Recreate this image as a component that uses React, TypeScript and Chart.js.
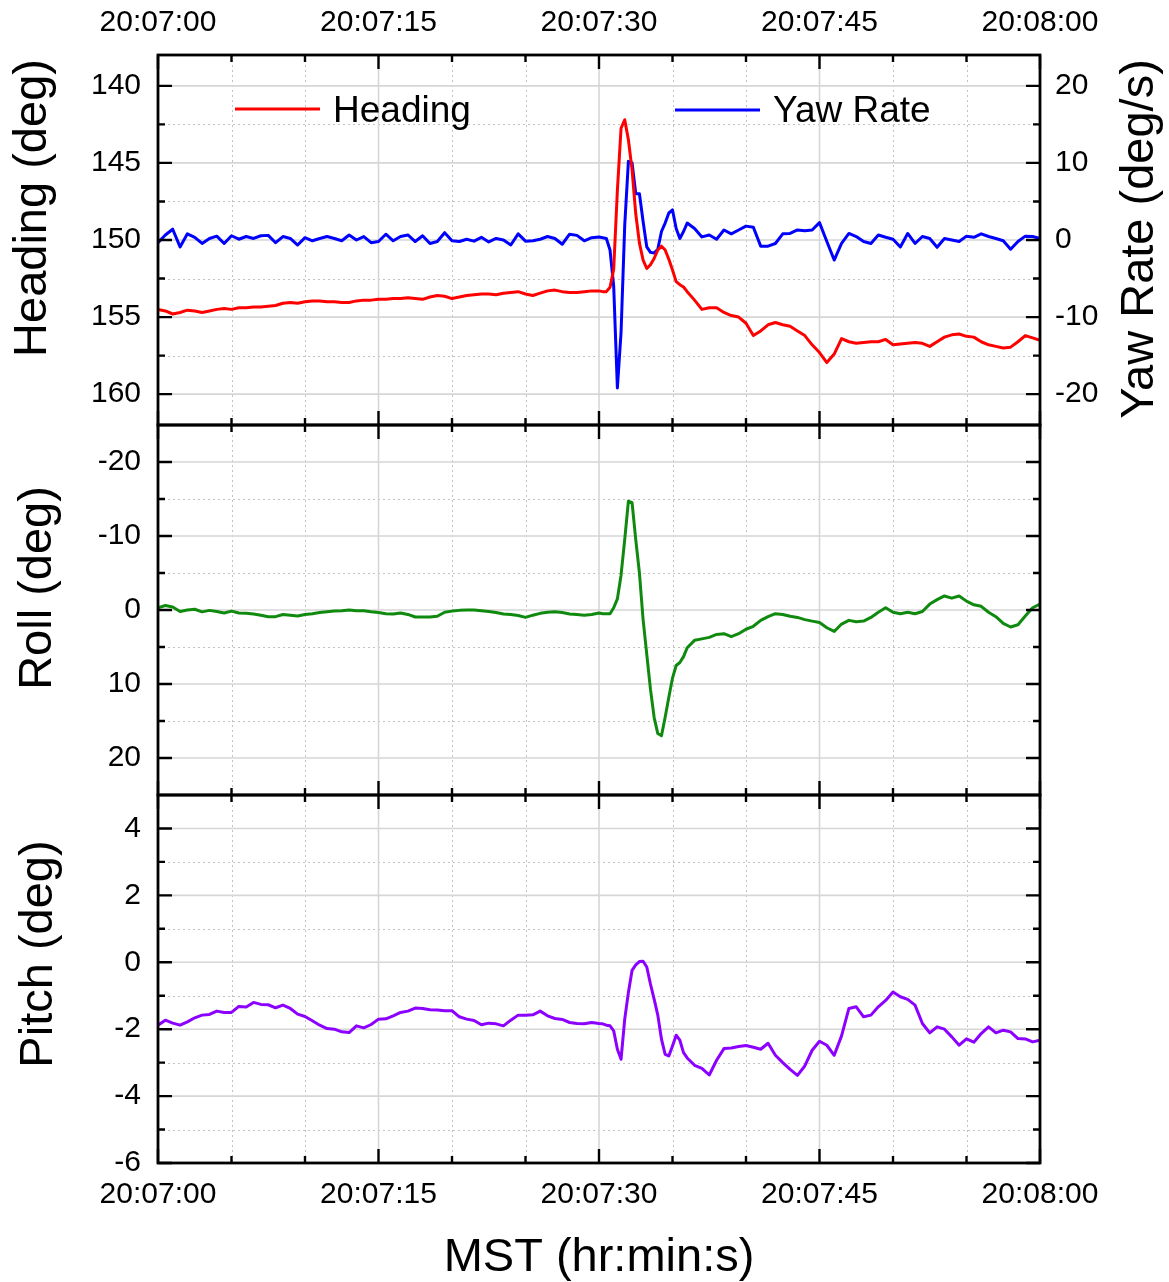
import React, { useEffect, useRef } from 'react';
import { Chart, registerables } from 'chart.js';
Chart.register(...registerables);

// ---------- data (seconds after 20:07:00) ----------
const TIME_S = [
  0, 0.5, 1, 1.5, 2, 2.5, 3, 3.5, 4, 4.5,
  5, 5.5, 6, 6.5, 7, 7.5, 8, 8.5, 9, 9.5,
  10, 10.5, 11, 11.5, 12, 12.5, 13, 13.5, 14, 14.5,
  15, 15.5, 16, 16.5, 17, 17.5, 18, 18.5, 19, 19.5,
  20, 20.5, 21, 21.5, 22, 22.5, 23, 23.5, 24, 24.5,
  25, 25.5, 26, 26.5, 27, 27.5, 28, 28.5, 29, 29.5,
  30, 30.25, 30.5, 30.75, 31, 31.25, 31.5, 31.75, 32, 32.25, 32.5, 32.75, 33,
  33.25, 33.5, 33.75, 34, 34.25, 34.5, 34.75, 35, 35.25, 35.5, 35.75, 36,
  36.5, 37, 37.5, 38, 38.5, 39, 39.5, 40, 40.5, 41,
  41.5, 42, 42.5, 43, 43.5, 44, 44.5, 45, 45.5, 46,
  46.5, 47, 47.5, 48, 48.5, 49, 49.5, 50, 50.5, 51,
  51.5, 52, 52.5, 53, 53.5, 54, 54.5, 55, 55.5, 56,
  56.5, 57, 57.5, 58, 58.5, 59, 59.5, 60,
];

const HEADING_DEG = [
  154.5, 154.6, 154.8, 154.7, 154.55, 154.6, 154.7, 154.6, 154.5, 154.45,
  154.5, 154.4, 154.4, 154.35, 154.35, 154.3, 154.25, 154.1, 154.05, 154.1,
  154.0, 153.95, 153.95, 154.0, 154.0, 154.05, 154.05, 153.95, 153.9, 153.9,
  153.85, 153.85, 153.8, 153.8, 153.75, 153.8, 153.85, 153.7, 153.6, 153.65,
  153.8, 153.7, 153.6, 153.55, 153.5, 153.5, 153.55, 153.45, 153.4, 153.35,
  153.5, 153.6, 153.45, 153.3, 153.25, 153.35, 153.4, 153.4, 153.35, 153.3,
  153.3, 153.35, 153.35, 153.07, 151.9, 146.8, 142.75, 142.2, 143.5, 145.45, 148.3, 150.2, 151.3,
  151.85, 151.6, 151.2, 150.65, 150.4, 150.65, 151.25, 151.95, 152.7, 152.9, 153.05, 153.35,
  153.9, 154.5, 154.4, 154.4, 154.7, 154.9, 155.0, 155.4, 156.2, 155.9,
  155.5, 155.35, 155.5, 155.6, 155.9, 156.2, 156.8, 157.3, 157.95, 157.4,
  156.4, 156.6, 156.7, 156.65, 156.6, 156.6, 156.45, 156.8, 156.75, 156.7,
  156.65, 156.7, 156.9, 156.6, 156.3, 156.15, 156.1, 156.25, 156.3, 156.6,
  156.8, 156.9, 157.0, 156.95, 156.6, 156.2, 156.35, 156.5,
];

const YAW_RATE_DPS = [
  -0.35, 0.65, 1.4, -0.9, 0.8, 0.35, -0.45, 0.2, 0.5, -0.45,
  0.55, 0.1, 0.45, 0.2, 0.55, 0.6, -0.35, 0.45, 0.2, -0.65,
  0.3, -0.1, 0.2, 0.45, 0.2, -0.1, 0.65, 0, 0.45, -0.35,
  -0.2, 0.75, -0.1, 0.45, 0.65, -0.2, 0.55, -0.45, -0.2, 0.95,
  -0.1, -0.2, 0.1, -0.15, 0.35, -0.25, 0.2, 0, -0.65, 0.8,
  -0.15, -0.1, 0.1, 0.45, 0.2, -0.55, 0.75, 0.6, -0.1, 0.3,
  0.4, 0.3, 0.2, -1.3, -6, -19.2, -12, 1.9, 10.2, 10.0, 6.0, 6.0, 2.4,
  -0.9, -1.6, -1.7, -1.2, 1.1, 2.2, 3.5, 3.9, 1.5, 0.2, 1.1, 2.2,
  1.5, 0.4, 0.65, 0.1, 1.3, 0.8, 1.3, 1.8, 1.65, -0.8,
  -0.8, -0.45, 0.8, 0.85, 1.3, 1.2, 1.3, 2.25, -0.2, -2.6,
  -0.45, 0.85, 0.45, -0.2, -0.45, 0.65, 0.35, 0.1, -0.9, 0.85,
  -0.45, 0.45, 0.2, -0.95, 0.2, 0, -0.2, 0.5, 0.35, 0.8,
  0.45, 0.2, -0.1, -1.2, -0.2, 0.5, 0.45, 0.2,
];

const ROLL_DEG = [
  -0.3, -0.6, -0.4, 0.2, 0, -0.1, 0.25, 0.05, 0.2, 0.4,
  0.15, 0.4, 0.45, 0.55, 0.7, 0.9, 0.9, 0.6, 0.7, 0.8,
  0.6, 0.5, 0.35, 0.25, 0.15, 0.1, 0, 0.1, 0.1, 0.25,
  0.35, 0.5, 0.55, 0.4, 0.6, 0.95, 0.95, 0.95, 0.85, 0.3,
  0.15, 0.05, 0, 0, 0.1, 0.2, 0.35, 0.55, 0.6, 0.75,
  1.0, 0.7, 0.45, 0.3, 0.25, 0.35, 0.55, 0.6, 0.7, 0.6,
  0.4, 0.5, 0.5, 0.5, -0.3, -1.5, -4.7, -9.5, -14.7, -14.5, -9.5, -5.0, 1.3,
  6.0, 10.7, 14.5, 16.7, 17.0, 14.5, 11.8, 9.2, 7.5, 7.1, 6.3, 5.1,
  4.1, 3.9, 3.7, 3.3, 3.2, 3.6, 3.2, 2.6, 2.2, 1.4,
  0.9, 0.5, 0.6, 0.85, 1.0, 1.3, 1.5, 1.7, 2.4, 2.9,
  1.9, 1.4, 1.6, 1.5, 1.0, 0.3, -0.3, 0.3, 0.5, 0.3,
  0.5, 0.2, -0.8, -1.4, -1.9, -1.6, -1.9, -1.2, -0.7, -0.5,
  0.3, 0.9, 1.8, 2.3, 2.0, 0.8, -0.3, -0.8,
];

const PITCH_DEG = [
  -1.88, -1.73, -1.82, -1.88, -1.78, -1.66, -1.58, -1.56, -1.46, -1.5,
  -1.5, -1.32, -1.34, -1.2, -1.26, -1.27, -1.36, -1.28, -1.38, -1.55,
  -1.62, -1.75, -1.88, -1.98, -2.0, -2.08, -2.1, -1.9, -1.96, -1.86,
  -1.7, -1.69, -1.6, -1.5, -1.46, -1.37, -1.38, -1.42, -1.43, -1.45,
  -1.45, -1.63, -1.7, -1.74, -1.87, -1.82, -1.84, -1.9, -1.73, -1.58,
  -1.58, -1.57, -1.46, -1.6, -1.68, -1.71, -1.8, -1.83, -1.84, -1.8,
  -1.83, -1.84, -1.88, -1.9, -2.05, -2.6, -2.9, -1.7, -0.9, -0.24, -0.08, 0.02, 0.03,
  -0.14, -0.65, -1.1, -1.58, -2.3, -2.75, -2.8, -2.5, -2.18, -2.33, -2.7, -2.86,
  -3.08, -3.17, -3.37, -2.93, -2.58, -2.56, -2.52, -2.49, -2.54, -2.6,
  -2.42, -2.78, -3.0, -3.2, -3.38, -3.1, -2.63, -2.36, -2.48, -2.78,
  -2.2, -1.38, -1.33, -1.63, -1.58, -1.33, -1.14, -0.89, -1.03, -1.11,
  -1.28, -1.83, -2.11, -1.93, -2.0, -2.23, -2.48, -2.29, -2.39, -2.13,
  -1.93, -2.11, -2.03, -2.08, -2.28, -2.29, -2.38, -2.33,
];

// ---------- ticks ----------
const TIME_MAJOR = [0, 15, 30, 45, 60];
const TIME_MINOR = [5, 10, 20, 25, 35, 40, 50, 55];
const TIME_LABELS = ['20:07:00', '20:07:15', '20:07:30', '20:07:45', '20:08:00'];
const HEADING_TICKS = [140, 145, 150, 155, 160];
const HEADING_MINOR = [142.5, 147.5, 152.5, 157.5];
const YAW_TICKS = [20, 10, 0, -10, -20];
const YAW_MINOR = [15, 5, -5, -15];
const ROLL_TICKS = [-20, -10, 0, 10, 20];
const ROLL_MINOR = [-15, -5, 5, 15];
const PITCH_TICKS = [4, 2, 0, -2, -4, -6];
const PITCH_MINOR = [3, 1, -1, -3, -5];

const W = 1169;
const H = 1282;
const FONT = "'Liberation Sans', Arial, Helvetica, sans-serif";
const tickFont = { family: FONT, size: 30 };

type DecorCfg = {
  left: string;
  right?: string;
  lMaj: number[];
  lMin: number[];
  rMaj?: number[];
  rMin?: number[];
  titles: { text: string; x: number; y: number }[];
  legend?: boolean;
};

function makeDecor(cfg: DecorCfg) {
  return {
    id: 'decor',
    beforeDatasetsDraw(chart: any) {
      const { ctx, chartArea: a } = chart;
      const xs = chart.scales.x;
      const yl = chart.scales[cfg.left];
      ctx.save();
      ctx.beginPath();
      ctx.rect(a.left, a.top, a.right - a.left, a.bottom - a.top);
      ctx.clip();
      // minor dotted grid
      ctx.strokeStyle = '#c2c2c2';
      ctx.lineWidth = 1;
      ctx.setLineDash([2, 3]);
      ctx.beginPath();
      for (const v of TIME_MINOR) {
        const px = Math.round(xs.getPixelForValue(v)) + 0.5;
        ctx.moveTo(px, a.top);
        ctx.lineTo(px, a.bottom);
      }
      for (const v of cfg.lMin) {
        const py = Math.round(yl.getPixelForValue(v)) + 0.5;
        ctx.moveTo(a.left, py);
        ctx.lineTo(a.right, py);
      }
      ctx.stroke();
      // major solid grid
      ctx.setLineDash([]);
      ctx.strokeStyle = '#d6d6d6';
      ctx.lineWidth = 1.6;
      ctx.beginPath();
      for (const v of TIME_MAJOR) {
        const px = xs.getPixelForValue(v);
        ctx.moveTo(px, a.top);
        ctx.lineTo(px, a.bottom);
      }
      for (const v of cfg.lMaj) {
        const py = yl.getPixelForValue(v);
        ctx.moveTo(a.left, py);
        ctx.lineTo(a.right, py);
      }
      ctx.stroke();
      ctx.restore();
    },
    afterDatasetsDraw(chart: any) {
      const { ctx, chartArea: a } = chart;
      const xs = chart.scales.x;
      const yl = chart.scales[cfg.left];
      const yr = cfg.right ? chart.scales[cfg.right] : yl;
      const rMaj = cfg.rMaj ?? cfg.lMaj;
      const rMin = cfg.rMin ?? cfg.lMin;
      ctx.save();
      ctx.strokeStyle = '#000';
      ctx.setLineDash([]);
      ctx.lineWidth = 2.4;
      ctx.beginPath();
      const xt = (vals: number[], len: number) => {
        for (const v of vals) {
          const px = xs.getPixelForValue(v);
          ctx.moveTo(px, a.top);
          ctx.lineTo(px, a.top + len);
          ctx.moveTo(px, a.bottom);
          ctx.lineTo(px, a.bottom - len);
        }
      };
      xt(TIME_MAJOR, 14);
      xt(TIME_MINOR, 7);
      const yt = (sc: any, vals: number[], len: number, right: boolean) => {
        for (const v of vals) {
          const py = sc.getPixelForValue(v);
          const x0 = right ? a.right : a.left;
          ctx.moveTo(x0, py);
          ctx.lineTo(right ? x0 - len : x0 + len, py);
        }
      };
      yt(yl, cfg.lMaj, 14, false);
      yt(yl, cfg.lMin, 7, false);
      yt(yr, rMaj, 14, true);
      yt(yr, rMin, 7, true);
      ctx.stroke();
      ctx.lineWidth = 2.8;
      ctx.strokeRect(a.left, a.top, a.right - a.left, a.bottom - a.top);
      ctx.restore();
    },
    afterDraw(chart: any) {
      const { ctx } = chart;
      ctx.save();
      ctx.fillStyle = '#000';
      ctx.font = `47px ${FONT}`;
      ctx.textAlign = 'center';
      ctx.textBaseline = 'middle';
      for (const t of cfg.titles) {
        ctx.save();
        ctx.translate(t.x, t.y);
        ctx.rotate(-Math.PI / 2);
        ctx.fillText(t.text, 0, 0);
        ctx.restore();
      }
      if (cfg.legend) {
        const items = [
          { ds: chart.data.datasets[0], x0: 235, x1: 320, ly: 109, tx: 333 },
          { ds: chart.data.datasets[1], x0: 675, x1: 760, ly: 110, tx: 773 },
        ];
        ctx.font = `37px ${FONT}`;
        ctx.textAlign = 'left';
        ctx.textBaseline = 'alphabetic';
        for (const it of items) {
          ctx.strokeStyle = it.ds.borderColor;
          ctx.lineWidth = 3;
          ctx.beginPath();
          ctx.moveTo(it.x0, it.ly);
          ctx.lineTo(it.x1, it.ly);
          ctx.stroke();
          ctx.fillStyle = '#000';
          ctx.fillText(it.ds.label, it.tx, 121.5);
        }
      }
      ctx.restore();
    },
  };
}

function yScale(pos: 'left' | 'right', min: number, max: number, reverse: boolean, ticks: number[], width: number) {
  return {
    type: 'linear',
    position: pos,
    min,
    max,
    reverse,
    afterBuildTicks: (s: any) => {
      s.ticks = ticks.map((v) => ({ value: v }));
    },
    afterFit: (s: any) => {
      s.width = width;
    },
    grid: { display: false, drawTicks: false },
    border: { display: false },
    ticks: {
      padding: pos === 'left' ? 17 : 15,
      font: tickFont,
      color: '#000',
      autoSkip: false,
      callback: (v: any) => String(v),
    },
  };
}

function xScale(pos: 'top' | 'bottom', show: boolean, height: number, padding: number, title?: string) {
  return {
    type: 'linear',
    position: pos,
    min: 0,
    max: 60,
    display: show,
    afterBuildTicks: (s: any) => {
      s.ticks = TIME_MAJOR.map((v) => ({ value: v }));
    },
    afterFit: (s: any) => {
      s.height = height;
    },
    grid: { display: false, drawTicks: false },
    border: { display: false },
    ticks: {
      padding,
      font: tickFont,
      color: '#000',
      autoSkip: false,
      maxRotation: 0,
      minRotation: 0,
      callback: (_v: any, i: number) => TIME_LABELS[i] ?? '',
    },
    title: title
      ? {
          display: true,
          text: title,
          color: '#000',
          font: { family: FONT, size: 47, lineHeight: 1 },
          padding: { top: 0, bottom: 0 },
        }
      : { display: false },
  };
}

const pts = (vals: number[]) => TIME_S.map((t, i) => ({ x: t, y: vals[i] }));
const line = (label: string, vals: number[], color: string, axis: string) => ({
  label,
  data: pts(vals),
  yAxisID: axis,
  borderColor: color,
  backgroundColor: color,
  borderWidth: 3,
  pointRadius: 0,
  tension: 0,
  fill: false,
  borderJoinStyle: 'round',
  borderCapStyle: 'round',
});

const common = {
  responsive: false,
  animation: false,
  events: [],
  plugins: { legend: { display: false }, tooltip: { enabled: false } },
};

export default function App() {
  const r1 = useRef<HTMLCanvasElement>(null);
  const r2 = useRef<HTMLCanvasElement>(null);
  const r3 = useRef<HTMLCanvasElement>(null);

  useEffect(() => {
    const c1 = new Chart(r1.current as HTMLCanvasElement, {
      type: 'line',
      data: {
        datasets: [
          line('Heading', HEADING_DEG, '#ff0000', 'yH'),
          line('Yaw Rate', YAW_RATE_DPS, '#0000ff', 'yY'),
        ],
      },
      options: {
        ...common,
        layout: { padding: { top: 0, left: 0, right: 0, bottom: H - 425 } },
        scales: {
          x: xScale('top', true, 55, 14),
          yH: yScale('left', 138, 162, true, HEADING_TICKS, 158),
          yY: yScale('right', -24, 24, false, YAW_TICKS, W - 1040),
        },
      } as any,
      plugins: [
        makeDecor({
          left: 'yH',
          right: 'yY',
          lMaj: HEADING_TICKS,
          lMin: HEADING_MINOR,
          rMaj: YAW_TICKS,
          rMin: YAW_MINOR,
          titles: [
            { text: 'Heading (deg)', x: 33, y: 208 },
            { text: 'Yaw Rate (deg/s)', x: 1140, y: 239 },
          ],
          legend: true,
        }),
      ],
    } as any);

    const c2 = new Chart(r2.current as HTMLCanvasElement, {
      type: 'line',
      data: { datasets: [line('Roll', ROLL_DEG, '#0f8a0f', 'yR')] },
      options: {
        ...common,
        layout: { padding: { top: 425, left: 0, right: W - 1040, bottom: H - 795 } },
        scales: {
          x: xScale('bottom', false, 0, 0),
          yR: yScale('left', -25, 25, true, ROLL_TICKS, 158),
        },
      } as any,
      plugins: [
        makeDecor({
          left: 'yR',
          lMaj: ROLL_TICKS,
          lMin: ROLL_MINOR,
          titles: [{ text: 'Roll (deg)', x: 38, y: 588 }],
        }),
      ],
    } as any);

    const c3 = new Chart(r3.current as HTMLCanvasElement, {
      type: 'line',
      data: { datasets: [line('Pitch', PITCH_DEG, '#8c00ff', 'yP')] },
      options: {
        ...common,
        layout: { padding: { top: 795, left: 0, right: W - 1040, bottom: 0 } },
        scales: {
          x: xScale('bottom', true, H - 1163, 14, 'MST (hr:min:s)'),
          yP: yScale('left', -6, 5, false, PITCH_TICKS, 158),
        },
      } as any,
      plugins: [
        makeDecor({
          left: 'yP',
          lMaj: PITCH_TICKS,
          lMin: PITCH_MINOR,
          titles: [{ text: 'Pitch (deg)', x: 39, y: 954 }],
        }),
      ],
    } as any);

    return () => {
      c1.destroy();
      c2.destroy();
      c3.destroy();
    };
  }, []);

  const cs: React.CSSProperties = { position: 'absolute', left: 0, top: 0, width: W, height: H };
  return (
    <div style={{ position: 'absolute', left: 0, top: 0, width: W, height: H, background: '#fff', overflow: 'hidden' }}>
      <canvas ref={r1} width={W} height={H} style={cs} />
      <canvas ref={r2} width={W} height={H} style={cs} />
      <canvas ref={r3} width={W} height={H} style={cs} />
    </div>
  );
}
